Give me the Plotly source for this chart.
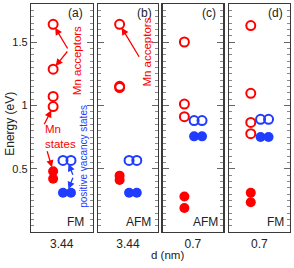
import plotly.graph_objects as go

# ---------------- data ----------------
panel_tags = ["(a)", "(b)", "(c)", "(d)"]
d_labels = ["3.44", "3.44", "0.7", "0.7"]
magnetic_order = ["FM", "AFM", "AFM", "FM"]

# Mn acceptor levels (red open circles), eV
mn_acceptors = [
    [1.64, 1.285, 1.07, 0.99],
    [1.64, 1.15, 1.14],
    [1.50, 1.01, 0.91],
    [1.63, 1.095, 0.865, 0.776],
]
# Mn states (red filled circles), eV
mn_states = [
    [0.48, 0.42],
    [0.445, 0.41],
    [0.28, 0.19],
    [0.31, 0.235],
]
# positive vacancy states (blue), eV (two circles per level)
vacancy_empty = [0.565, 0.565, 0.88, 0.89]
vacancy_filled = [0.31, 0.31, 0.755, 0.75]

# horizontal offsets within each panel (panel x range 0..1)
x_mn = 0.36
x_vac = [0.52, 0.65]

RED = "#ff0000"
BLUE = "#1f3cff"
FONT = "Liberation Sans, Arial, sans-serif"

W, H = 294, 268
L, R, T, B = 31, 4, 4, 35.5
PW, PH = W - L - R, H - T - B
panel_px = [(31, 92.5), (98.3, 157.5), (162.5, 223.3), (228.7, 290)]

def px2paper(x, y):
    return (x - L) / PW, (H - B - y) / PH

fig = go.Figure()
YMAX = 1.8

for i in range(4):
    xa = "x" if i == 0 else f"x{i+1}"
    ya = "y" if i == 0 else f"y{i+1}"
    n = len(mn_acceptors[i])
    fig.add_trace(go.Scatter(x=[x_mn] * n, y=mn_acceptors[i], mode="markers",
                             marker=dict(symbol="circle-open", size=9, color=RED,
                                         line=dict(width=2, color=RED)),
                             xaxis=xa, yaxis=ya, showlegend=False, hoverinfo="skip"))
    m = len(mn_states[i])
    fig.add_trace(go.Scatter(x=[x_mn] * m, y=mn_states[i], mode="markers",
                             marker=dict(symbol="circle", size=10, color=RED),
                             xaxis=xa, yaxis=ya, showlegend=False, hoverinfo="skip"))
    fig.add_trace(go.Scatter(x=x_vac, y=[vacancy_empty[i]] * 2, mode="markers",
                             marker=dict(symbol="circle-open", size=9, color=BLUE,
                                         line=dict(width=2, color=BLUE)),
                             xaxis=xa, yaxis=ya, showlegend=False, hoverinfo="skip"))
    fig.add_trace(go.Scatter(x=x_vac, y=[vacancy_filled[i]] * 2, mode="markers",
                             marker=dict(symbol="circle", size=10, color=BLUE),
                             xaxis=xa, yaxis=ya, showlegend=False, hoverinfo="skip"))

    x0, x1 = panel_px[i]
    dom = [(x0 - L) / PW, (x1 - L) / PW]
    xkey = "xaxis" if i == 0 else f"xaxis{i+1}"
    ykey = "yaxis" if i == 0 else f"yaxis{i+1}"
    fig.layout[xkey] = dict(domain=dom, range=[0, 1], anchor=ya,
                            showgrid=False, zeroline=False,
                            showline=True, mirror=True, linecolor="#3a3a3a", linewidth=1.2,
                            tickvals=[0.5], ticktext=[d_labels[i]], ticks="",
                            tickfont=dict(family=FONT, size=12, color="#222"))
    fig.layout[ykey] = dict(domain=[0, 1], range=[0, YMAX], anchor=xa,
                            showgrid=False, zeroline=False,
                            showline=True, mirror="ticks", linecolor="#3a3a3a", linewidth=1.2,
                            tickvals=[0.5, 1.0, 1.5], ticktext=["0.5", "1", "1.5"],
                            showticklabels=(i == 0),
                            ticks="inside", ticklen=6, tickwidth=1, tickcolor="#666",
                            minor=dict(dtick=0.05, tick0=0, ticks="inside", ticklen=3,
                                       tickwidth=1, tickcolor="#888", showgrid=False),
                            tickfont=dict(family=FONT, size=11, color="#222"))

    # panel tag and magnetic order
    cx = {0: 75.5, 1: 144, 2: 209, 3: 275.5}[i]
    px, py = px2paper(cx, 13)
    fig.add_annotation(x=px, y=py, xref="paper", yref="paper", text=panel_tags[i],
                       showarrow=False, font=dict(family=FONT, size=12, color="#222"),
                       xanchor="center", yanchor="middle")
    mx = {0: 75.8, 1: 138.3, 2: 205, 3: 275}[i]
    px, py = px2paper(mx, 222.5)
    fig.add_annotation(x=px, y=py, xref="paper", yref="paper", text=magnetic_order[i],
                       showarrow=False, font=dict(family=FONT, size=12, color="#222"),
                       xanchor="center", yanchor="middle")

def yd(py):
    return (H - B - py) / 127.0

def xd(i, px):
    x0, x1 = panel_px[i]
    return (px - x0) / (x1 - x0)

# arrows
def arrow(i, tail_px, head, color):
    xa = "x" if i == 0 else f"x{i+1}"
    ya = "y" if i == 0 else f"y{i+1}"
    fig.add_annotation(x=head[0], y=head[1], xref=xa, yref=ya,
                       ax=xd(i, tail_px[0]), ay=yd(tail_px[1]), axref=xa, ayref=ya,
                       text="", showarrow=True, arrowhead=2, arrowsize=1.1,
                       arrowwidth=1.3, arrowcolor=color, standoff=4)

arrow(0, (68.5, 50), (x_mn, mn_acceptors[0][0]), RED)
arrow(0, (68.5, 50), (x_mn, mn_acceptors[0][1]), RED)
arrow(0, (43.5, 126), (x_mn, mn_acceptors[0][3]), RED)
arrow(0, (46.7, 150), (x_mn, mn_states[0][0]), RED)
arrow(0, (73.5, 176.5), (sum(x_vac) / 2, vacancy_empty[0]), BLUE)
arrow(0, (73.5, 176.5), (sum(x_vac) / 2, vacancy_filled[0]), BLUE)
arrow(1, (140, 58.3), (x_mn, mn_acceptors[1][0]), RED)

# texts
def text(px_, py_, s, color, size, angle=0, align="center", xanchor="center"):
    px, py = px2paper(px_, py_)
    fig.add_annotation(x=px, y=py, xref="paper", yref="paper", text=s, showarrow=False,
                       textangle=angle, align=align, xanchor=xanchor, yanchor="middle",
                       font=dict(family=FONT, size=size, color=color))

text(77.3, 61, "Mn acceptors", RED, 11.5, angle=-90)
text(146.7, 52, "Mn acceptors", RED, 11.5, angle=-90)
text(42.5, 137, "Mn<br>states", RED, 11.5, align="left", xanchor="left")
text(82.7, 156.5, "positive vacancy states", BLUE, 10, angle=-90)
text(167, 256, "d (nm)", "#222", 11.5)
text(10, 124, "Energy (eV)", "#222", 12, angle=-90)

fig.update_layout(width=W, height=H, margin=dict(l=L, r=R, t=T, b=B),
                  paper_bgcolor="white", plot_bgcolor="white",
                  font=dict(family=FONT, color="#222"), hovermode=False)

fig.write_html("out.html", config={"displayModeBar": False, "staticPlot": True},
               post_script="document.body.style.margin='0';document.body.style.padding='0';")
